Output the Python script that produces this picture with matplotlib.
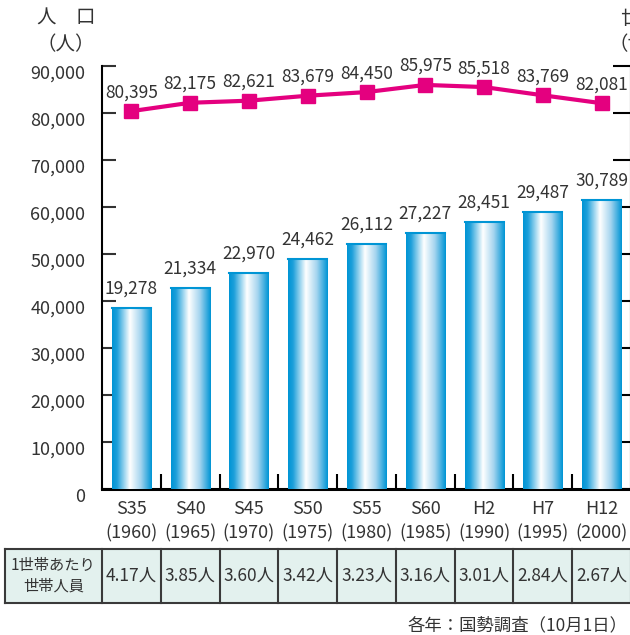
import numpy as np
import matplotlib
matplotlib.use("Agg")
import matplotlib.pyplot as plt
from matplotlib.colors import LinearSegmentedColormap
from matplotlib.patches import Rectangle
import matplotlib.transforms as mtransforms

plt.rcParams['font.family'] = ['Noto Sans CJK JP', 'DejaVu Sans']

# データ
wareki = ["S35", "S40", "S45", "S50", "S55", "S60", "H2", "H7", "H12"]
seireki = ["1960", "1965", "1970", "1975", "1980", "1985", "1990", "1995", "2000"]
jinko = [80395, 82175, 82621, 83679, 84450, 85975, 85518, 83769, 82081]
setai = [19278, 21334, 22970, 24462, 26112, 27227, 28451, 29487, 30789]
jinin = ["4.17", "3.85", "3.60", "3.42", "3.23", "3.16", "3.01", "2.84", "2.67"]

W, H = 630, 635
fig = plt.figure(figsize=(W / 100, H / 100), dpi=100)
ax = fig.add_axes([102 / W, 1 - 489 / H, 529 / W, (489 - 66) / H])
ax2 = ax.twinx()

n = len(wareki)
xs = np.arange(n) + 0.5
blue = "#0095d5"
magenta = "#e4007f"
txt = "#333333"

# 棒（グラデーション）
cmap = LinearSegmentedColormap.from_list("bar", [(0, blue), (0.12, "#1c9fda"), (0.45, "#ffffff"),
                                                 (0.72, "#a6d5ef"), (1.0, blue)])
grad = np.linspace(0, 1, 100).reshape(1, -1)
bw = 0.665
for x, v in zip(xs, setai):
    ax2.imshow(grad, extent=(x - bw / 2, x + bw / 2, 0, v), aspect='auto', cmap=cmap, zorder=2)
    ax2.plot([x - bw / 2, x + bw / 2], [v, v], color=blue, lw=1.5, zorder=3)
    ax2.text(x, v + 1100, f"{v:,}", ha='center', va='bottom', fontsize=12.5, color=txt)

# 人口の折れ線
ax.plot(xs, jinko, color=magenta, lw=3, marker='s', markersize=10, zorder=4)
for x, v in zip(xs, jinko):
    ax.text(x, v + 2100, f"{v:,}", ha='center', va='bottom', fontsize=12.5, color=txt)

ax.set_xlim(0, n)
ax.set_ylim(0, 90000)
ax2.set_ylim(0, 45000)
ax2.set_xlim(0, n)

for a in (ax, ax2):
    a.spines['top'].set_visible(False)
ax.spines['right'].set_visible(False)
ax.spines['left'].set_linewidth(1.5)
ax.spines['bottom'].set_linewidth(2.2)
ax2.spines['left'].set_visible(False)
ax2.spines['bottom'].set_visible(False)
ax2.spines['right'].set_linewidth(1.5)

ax.set_yticks(np.arange(0, 90001, 10000))
ax.set_yticklabels([f"{v:,}" for v in range(0, 90001, 10000)])
ax.tick_params(axis='y', direction='in', length=10, width=1.5, labelsize=13, colors=txt, pad=12)
ax2.set_yticks(np.arange(0, 45001, 5000))
ax2.set_yticklabels([])
ax2.tick_params(axis='y', direction='in', length=13, width=1.5)
offset = mtransforms.ScaledTranslation(0, -6 / 100, fig.dpi_scale_trans)
for lab in ax.get_yticklabels():
    lab.set_transform(lab.get_transform() + offset)

ax.set_xticks(xs)
ax.set_xticklabels([f"{a}\n({b})" for a, b in zip(wareki, seireki)], linespacing=1.45)
ax.set_xticks(np.arange(1, n), minor=True)
ax.tick_params(axis='x', which='major', length=0, labelsize=13, colors=txt, pad=8)
ax.tick_params(axis='x', which='minor', direction='in', length=11, width=1.5)

# 軸見出し（右側は画面外に切れている）
fig.text(66 / W, 1 - 18 / H, "人　口", ha='center', va='center', fontsize=14, color=txt)
fig.text(66 / W, 1 - 45 / H, "（人）", ha='center', va='center', fontsize=14, color=txt)
fig.text(621 / W, 1 - 18 / H, "世　帯", ha='left', va='center', fontsize=14, color=txt)
fig.text(609 / W, 1 - 45 / H, "（世帯）", ha='left', va='center', fontsize=14, color=txt)

# 下の表
tr = mtransforms.blended_transform_factory(ax.transData, fig.transFigure)
x_left = (5 - 102) / (528 / 9)
y_top = 1 - 549 / H
y_bot = 1 - 603 / H
ax.add_patch(Rectangle((x_left, y_bot), n - x_left, y_top - y_bot, transform=tr,
                       facecolor="#e3f1ee", edgecolor="none", clip_on=False, zorder=0))
for xv in [x_left] + list(range(n + 1)):
    ax.plot([xv, xv], [y_bot, y_top], transform=tr, color="#3a3a3a", lw=1.5, clip_on=False)
for yv in (y_top, y_bot):
    ax.plot([x_left, n], [yv, yv], transform=tr, color="#3a3a3a", lw=1.5, clip_on=False)
y_mid = (y_top + y_bot) / 2
ax.text(x_left / 2, y_mid, "1世帯あたり\n世帯人員", transform=tr, ha='center', va='center',
        fontsize=11, color=txt, linespacing=1.3)
for x, v in zip(xs, jinin):
    ax.text(x, y_mid, f"{v}人", transform=tr, ha='center', va='center', fontsize=12.5, color=txt)

fig.text(628 / W, 1 - 625 / H, "各年：国勢調査（10月1日）", ha='right', va='center', fontsize=12.5, color=txt)

fig.savefig("out.png", dpi=100)
